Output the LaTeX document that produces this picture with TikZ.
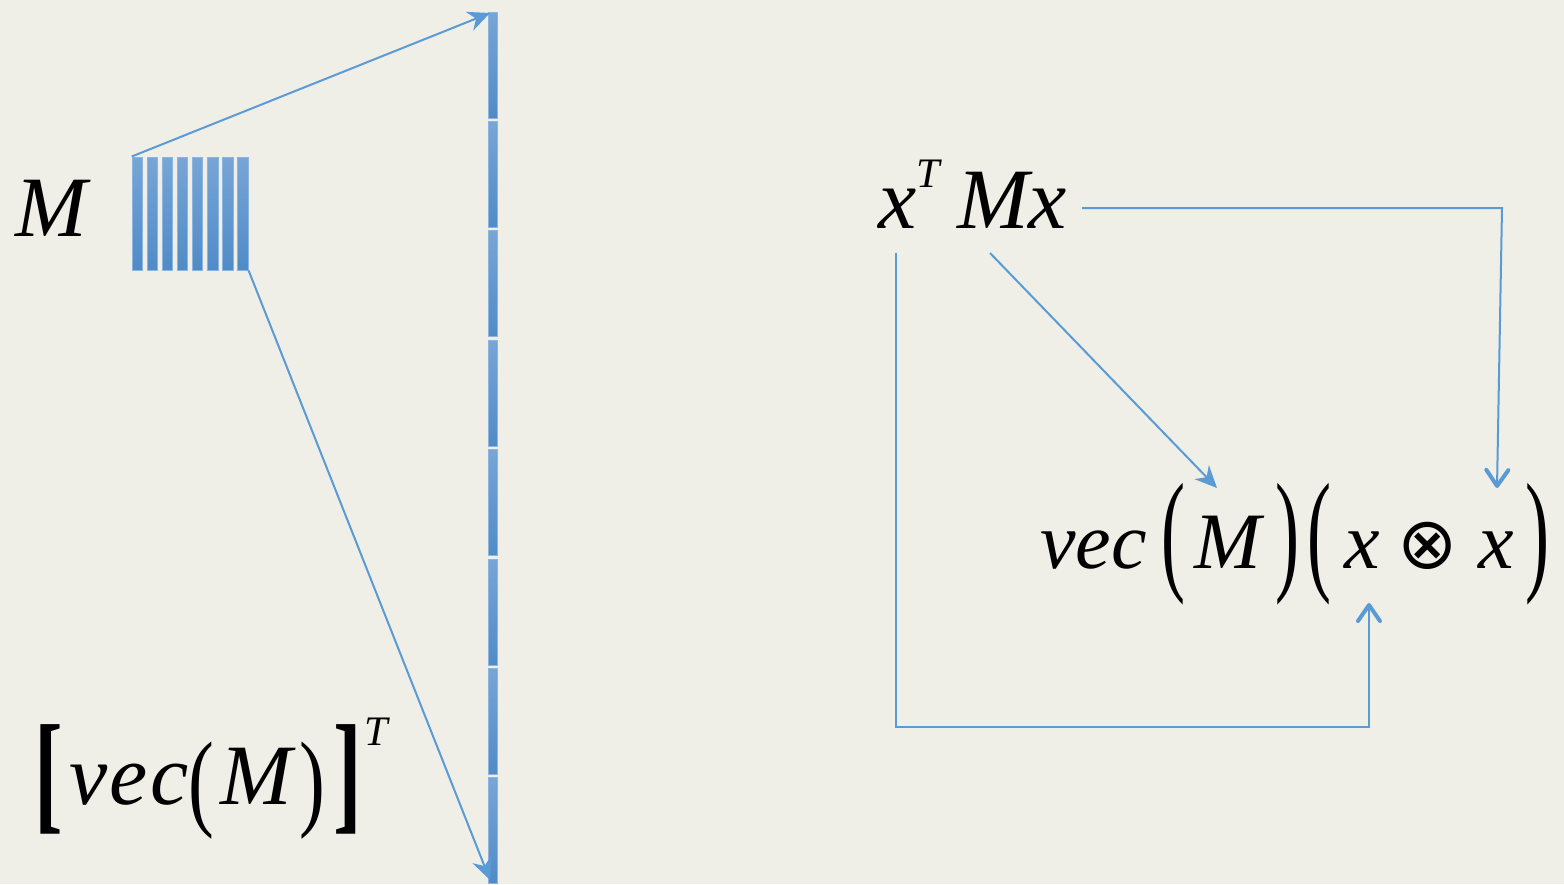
\documentclass[tikz,border=0pt]{standalone}
\usepackage{fontspec}
\usepackage{graphicx}
\setmainfont{Liberation Serif}
\newfontfamily\symfont{DejaVu Sans}
\usetikzlibrary{arrows.meta}
\definecolor{bg}{RGB}{239,239,231}
\definecolor{lb}{RGB}{91,155,213}
\definecolor{bartop}{RGB}{120,165,214}
\definecolor{barbot}{RGB}{80,139,199}
\definecolor{baredge}{RGB}{140,180,225}
\newcommand{\sqL}{\raisebox{-0.15em}{\scalebox{1}[1.54]{\upshape\bfseries [}}}
\newcommand{\sqR}{\raisebox{-0.15em}{\scalebox{1}[1.54]{\upshape\bfseries ]}}}
\newcommand{\pL}[2]{\raisebox{#2}{\scalebox{0.9}[#1]{\upshape (}}}
\newcommand{\pR}[2]{\raisebox{#2}{\scalebox{0.9}[#1]{\upshape )}}}
\newcommand{\otm}{{\symfont\fontsize{36}{40}\selectfont\upshape ⊗}}
\tikzset{
  bar/.style={draw=baredge, line width=0.5pt, top color=bartop, bottom color=barbot,
    minimum width=5.25pt, minimum height=56.5pt, inner sep=0pt},
  seg/.style={draw=baredge, line width=0.5pt, top color=bartop, bottom color=barbot,
    minimum width=4.5pt, minimum height=53pt, inner sep=0pt},
  txt/.style={inner sep=0pt, anchor=base west, font=\fontsize{43}{50}\selectfont\itshape},
  conn/.style={draw=lb, line width=1pt},
  sarrow/.style={conn, -{Stealth[length=11pt, width=10pt, inset=3.5pt]}},
  varrow/.style={conn, -{Straight Barb[length=8pt, width=11pt, line width=2pt, round]}},
}
\begin{document}
\begin{tikzpicture}[x=0.5pt, y=-0.5pt]
\useasboundingbox[fill=bg] (0,0) rectangle (1564,884);
% small matrix M
\foreach \i in {0,...,7} {
  \node[bar] (b\i) at ({137.5+15.05*\i}, 213.5) {};
}
% long vector
\foreach \i in {0,...,7} {
  \node[seg] (s\i) at (492.5, {12+53+109.4*\i}) {};
}
\coordinate (coltop) at (490,13);
\coordinate (colbot) at (490,880);
\draw[sarrow] (b0.north west) -- (coltop);
\draw[sarrow] (b7.south east) -- (colbot);
% texts
\node[txt] (Mlabel) at (15,236) {M};
\node[txt] (vecT) at (34,804) {\sqL\hspace{0.07em}v\hspace{0.03em}e\hspace{0.03em}c\pL{1.25}{-0.14em}\hspace{0.075em}M\hspace{0.08em}\pR{1.25}{-0.14em}\hspace{0.1em}\sqR\hspace{0.02em}\raisebox{0.68em}{\fontsize{21}{24}\selectfont T}};
\node[txt] (xtmx) at (878,228) {x\raisebox{0.47em}{\fontsize{21}{24}\selectfont T}\hspace{0.2em}Mx};
\node[txt, font=\fontsize{40}{48}\selectfont\itshape] (vecx) at (1040,568)
  {vec\hspace{0.18em}\pL{1.68}{-0.1em}\hspace{0.12em}M\hspace{0.18em}\pR{1.68}{-0.1em}\hspace{0.1em}\pL{1.68}{-0.1em}\hspace{0.16em}x\hspace{0.22em}\otm\hspace{0.25em}x\hspace{0.15em}\pR{1.68}{-0.1em}};
% connectors on the right
\coordinate (r1) at (1082,208);
\coordinate (r2) at (1502,208);
\coordinate (r3) at (1497,488);
\draw[varrow] (r1) -- (r2) -- (r3);
\coordinate (d1) at (990,253);
\coordinate (d2) at (1217,488);
\draw[sarrow] (d1) -- (d2);
\coordinate (u1) at (896,253);
\coordinate (u2) at (896,727);
\coordinate (u3) at (1369,727);
\coordinate (u4) at (1369,603);
\draw[varrow] (u1) -- (u2) -- (u3) -- (u4);
\end{tikzpicture}
\end{document}
